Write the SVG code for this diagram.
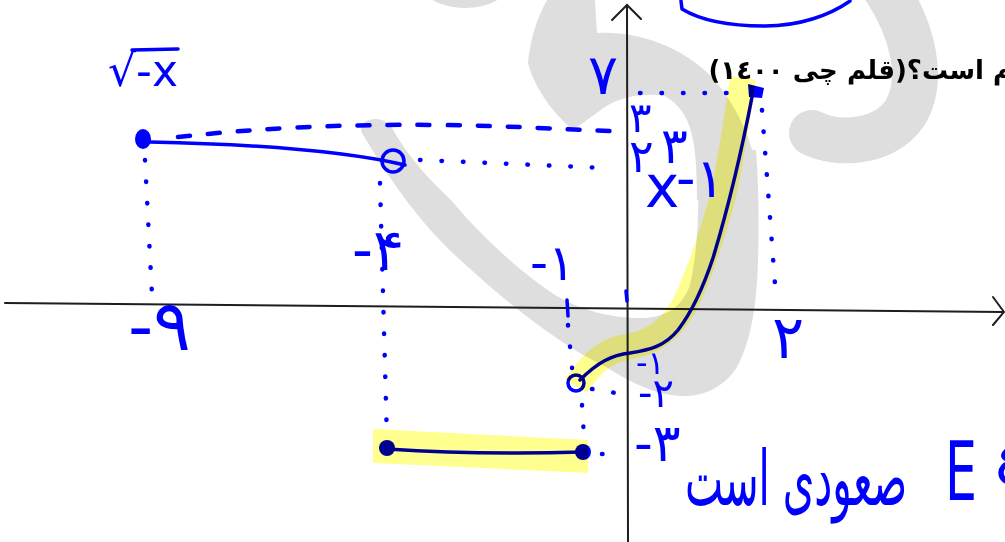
<svg xmlns="http://www.w3.org/2000/svg" width="1005" height="542" viewBox="0 0 1005 542">
<style>
.wm{fill:#dedede}
.wms{stroke:#dedede;fill:none;stroke-linecap:round}
.ax{stroke:#1e1e1e;stroke-width:2;fill:none;stroke-linecap:round}
.b{stroke:#0000ff;stroke-width:3.5;fill:none;stroke-linecap:round;stroke-linejoin:round}
.dot{stroke:#0000ff;stroke-width:4.5;fill:none;stroke-linecap:round;stroke-dasharray:0.5 21}
.dash{stroke:#0000ff;stroke-width:4.5;fill:none;stroke-linecap:round;stroke-dasharray:12 18}
.lbl{font-family:"DejaVu Sans",sans-serif;fill:#0000ff}
.hl{fill:#ffff8f;mix-blend-mode:multiply}
.hls{stroke:#ffff8f;fill:none;mix-blend-mode:multiply}
.q{font-family:"DejaVu Sans",sans-serif;font-weight:bold;fill:#000}
</style>
<g id="watermark">
<ellipse class="wm" cx="465" cy="-14" rx="42" ry="22"/>
<path class="wms" stroke-width="46" d="M885,-12 C913,30 925,80 905,113 C885,143 838,146 812,133"/>
<path class="wm" d="M547,0 L595,0 L597,33 C640,30 690,50 717,83 C735,105 750,135 756,165 L758,200 L697,200 C697,140 692,112 665,96 C640,92 615,98 598,112 L573,130 C555,115 535,90 528,63 C530,40 537,18 547,0 Z"/>
<path class="wm" d="M756,150 C759,190 759,230 758,260 C757,300 752,340 737,367 C722,390 700,397 680,396 C655,395 630,382 606,367 C560,345 510,305 468,267 C420,225 390,180 362,133 C356,118 384,113 392,128 C410,160 430,180 451,200 C480,235 520,272 555,295 C580,310 610,318 640,318 C665,318 682,308 690,285 C700,240 699,190 697,150 Z"/>
</g>
<g id="axes">
<path class="ax" d="M5,303 L1003,312"/>
<path class="ax" d="M993,297 L1004,312 L993,325"/>
<path class="ax" d="M627,5 L628,542"/>
<path class="ax" d="M612,20 L627,5 L641,19"/>
</g>
<g id="guides">
<path class="dot" d="M145,160 L152,295"/>
<path class="dot" d="M380,183 L387,440"/>
<path class="dot" d="M420,160 L606,168"/>
<path class="dash" d="M178,137 C260,128 340,124 440,125 C520,126 570,130 610,131"/>
<path class="dot" d="M640,93 L735,93"/>
<path class="dot" d="M762,110 L776,298"/>
<path class="dot" d="M568,325 L572,368"/>
<path class="b" d="M567,300 L568,316"/>
<path class="b" d="M626,291 L627,301"/>
<path class="dot" d="M592,389 L622,394"/>
<path class="dot" d="M582,405 L584,437"/>
<path class="dot" d="M602,454 L622,454"/>
</g>
<g id="sqrt-branch">
<path class="b" d="M150,142 C250,144 340,150 405,165"/>
<ellipse cx="143" cy="139" rx="8" ry="10" fill="#0000ff"/>
<circle class="b" cx="393" cy="161" r="11" stroke-width="4"/>
</g>
<g id="constant-branch">
<path class="b" d="M387,449 Q480,455 583,452"/>
<circle cx="387" cy="448" r="8" fill="#0000ff"/>
<circle cx="583" cy="452" r="8" fill="#0000ff"/>
</g>
<g id="cubic-branch">
<path class="b" d="M580,380 C598,362 612,355 630,353 C650,350 665,346 678,330 C695,308 705,282 713,258 C726,215 740,160 753,92"/>
<circle class="b" cx="576" cy="383" r="8" stroke-width="3.5"/>
<path d="M748,84 L764,88 L762,98 L749,97 Z" fill="#0000ff"/>
</g>
<g id="top-arc">
<path class="b" d="M681,1 L682,9 C700,20 730,26 765,26 C800,26 830,15 850,1"/>
</g>
<g id="highlights">
<path class="hl" d="M373,429 L588,440 L588,473 L373,463 Z"/>
<path class="hls" stroke-width="26" d="M576,386 C590,365 605,350 627,347 C650,343 668,333 683,308 C700,275 712,235 722,200 C730,165 737,120 743,78"/>
</g>
<g id="labels">
<text class="lbl" x="108" y="86" font-size="44">√-x</text>
<path class="b" d="M132,50 L178,49"/>
<text class="lbl" x="352" y="270" font-size="58">-۴</text>
<text class="lbl" x="128" y="350" font-size="70">-۹</text>
<text class="lbl" x="530" y="280" font-size="50">-۱</text>
<text class="lbl" x="772" y="358" font-size="60">۲</text>
<text class="lbl" x="588" y="94" font-size="56">۷</text>
<text class="lbl" x="629" y="132" font-size="42">۳</text>
<text class="lbl" x="629" y="172" font-size="46">۲</text>
<text class="lbl" x="661" y="163" font-size="50">۳</text>
<text class="lbl" x="645" y="207" font-size="58">x</text>
<text class="lbl" x="676" y="197" font-size="54">-۱</text>
<text class="lbl" x="636" y="374" font-size="32">-۱</text>
<text class="lbl" x="638" y="407" font-size="40">-۲</text>
<text class="lbl" x="634" y="461" font-size="52">-۳</text>
<text class="lbl" x="685" y="505" font-size="76" textLength="222" lengthAdjust="spacingAndGlyphs">صعودی است</text>
<text class="lbl" x="945" y="500" font-size="82" textLength="32" lengthAdjust="spacingAndGlyphs">E</text>
<text class="lbl" x="993" y="484" font-size="62">٤</text>
</g>
<g id="question">
<text class="q" x="1012" y="79" font-size="26" direction="rtl" text-anchor="start">م است؟(قلم چی ١٤٠٠)</text>
</g>
</svg>
